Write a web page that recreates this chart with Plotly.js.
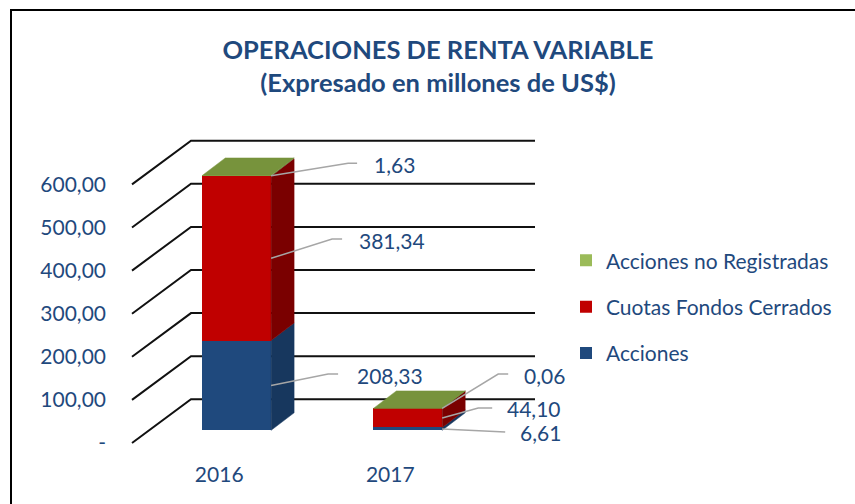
<!DOCTYPE html>
<html>
<head>
<meta charset="utf-8">
<script src="https://cdn.plot.ly/plotly-3.0.1.min.js"></script>
<style>
  html, body { margin: 0; padding: 0; background: #fff; }
  #wrap { position: relative; width: 855px; height: 504px; }
  #chart { width: 855px; height: 504px; }
  #frame { position: absolute; left: 10px; top: 9px; right: -5px; bottom: -5px;
           border-left: 2px solid #000; border-top: 2px solid #000; pointer-events: none; }
</style>
</head>
<body>
<div id="wrap"><div id="chart"></div><div id="frame"></div></div>
<script>
// ---- data ----
const years = ['2016', '2017'];
const acciones = [208.33, 6.61];
const cuotasFondosCerrados = [381.34, 44.10];
const accionesNoRegistradas = [1.63, 0.06];
const seriesNames = ['Acciones', 'Cuotas Fondos Cerrados', 'Acciones no Registradas'];
const yTickVals = [0, 100, 200, 300, 400, 500, 600];
const yTickText = ['-', '100,00', '200,00', '300,00', '400,00', '500,00', '600,00'];

// ---- styling / geometry ----
const TXT = '#1F497D';
const FONT = 'Lato, "Open Sans", sans-serif';
const frontColors = ['#1F497D', '#C00000', '#9BBB59'];
const sideColors  = ['#17375E', '#7A0000', '#4F6228'];
const topColor = '#77933C';

const plot = {l: 110, r: 560, t: 120, b: 460};
const X0 = 236.7, XS = 171.1;   // px of first category bar centre, px per category
const K = 0.431;                // px per value unit
const ZF = 443, ZB = 430.3;     // zero in px: front plane (axis), bar plane
const u  = px => (px - X0) / XS;
const du = d => d / XS;
const dv = d => d / K;
const BW = 68.8 / XS;           // bar width
const DX = du(23), DY = dv(17.5);       // bar depth
const GDY = dv(43.7);                   // wall depth of gridlines

const fmt = v => v.toFixed(2).replace('.', ',');

const series = [acciones, cuotasFondosCerrados, accionesNoRegistradas];
const xs = years.map((_, i) => i);

const traces = [];
series.forEach((vals, s) => {
  traces.push({
    type: 'bar', x: xs, y: vals, name: seriesNames[s], width: BW,
    marker: {color: frontColors[s], line: {width: 0}},
    xaxis: 'x', yaxis: 'y2', legendgroup: seriesNames[s],
    legendrank: 1000 - s, hoverinfo: 'skip'
  });
});

// 3D side and top faces, computed from the data
const annotations = [];
// leader line offsets in px from segment mid on the right edge: [diag end dx, dy, horiz end dx, label dx]
const leaders = [
  [[57, -11.4, 67, 84], [61, -19.3, 71, 86], [77, -12.5, 86, 101]],
  [[55, 3, 63, 76], [36, -10, 50, 63], [56, -34.4, 66, 80]]
];
xs.forEach(i => {
  let base = 0;
  const xl = i - BW / 2, xr = i + BW / 2;
  series.forEach((vals, s) => {
    const b = base, t = base + vals[i];
    traces.push({
      type: 'scatter', mode: 'lines', x: [xr, xr + DX, xr + DX, xr, xr],
      y: [b, b + DY, t + DY, t, b], fill: 'toself', fillcolor: sideColors[s],
      line: {color: sideColors[s], width: 0.5}, xaxis: 'x', yaxis: 'y2',
      showlegend: false, hoverinfo: 'skip'
    });
    if (s === series.length - 1) {
      traces.push({
        type: 'scatter', mode: 'lines', x: [xl, xr, xr + DX, xl + DX, xl],
        y: [t, t, t + DY, t + DY, t], fill: 'toself', fillcolor: topColor,
        line: {color: topColor, width: 0.5}, xaxis: 'x', yaxis: 'y2',
        showlegend: false, hoverinfo: 'skip'
      });
    }
    const mid = (b + t) / 2;
    const L = leaders[i][s];
    traces.push({
      type: 'scatter', mode: 'lines',
      x: [xr, xr + du(L[0]), xr + du(L[2])],
      y: [mid, mid - dv(L[1]), mid - dv(L[1])],
      line: {color: '#A6A6A6', width: 1.5}, xaxis: 'x', yaxis: 'y2',
      showlegend: false, hoverinfo: 'skip'
    });
    annotations.push({
      x: xr + du(L[3]), y: mid - dv(L[1] + 1), xref: 'x', yref: 'y2',
      text: fmt(vals[i]), showarrow: false, xanchor: 'left', yanchor: 'middle',
      font: {family: FONT, size: 21, color: TXT}
    });
    base = t;
  });
});

// perspective gridlines (floor-to-wall)
const shapes = yTickVals.map(v => ({
  type: 'path', xref: 'x', yref: 'y', layer: 'below',
  path: `M ${u(132)},${v} L ${u(191)},${v + GDY} L ${u(535)},${v + GDY}`,
  line: {color: '#111', width: 2}
}));

const layout = {
  width: 855, height: 504,
  margin: {l: plot.l, r: 855 - plot.r, t: plot.t, b: 504 - plot.b, pad: 0},
  paper_bgcolor: '#fff', plot_bgcolor: 'rgba(0,0,0,0)',
  barmode: 'stack',
  showlegend: true,
  title: {
    text: '<b>OPERACIONES DE RENTA VARIABLE</b><br><b>(Expresado en millones de US$)</b>',
    x: 438 / 855, xanchor: 'center', xref: 'container',
    y: 1 - 58.5 / 504, yanchor: 'middle', yref: 'container',
    font: {family: FONT, size: 25.5, color: TXT}
  },
  xaxis: {
    range: [u(plot.l), u(plot.r)], tickvals: xs.map(i => i + du(-17.5)), ticktext: years,
    showgrid: false, zeroline: false, showline: false, ticks: '',
    tickfont: {family: FONT, size: 21, color: TXT}
  },
  yaxis: {
    range: [(ZF - plot.b) / K, (ZF - plot.t) / K], tickvals: yTickVals, ticktext: yTickText,
    showgrid: false, zeroline: false, showline: false, ticks: '', ticklabelstandoff: 3,
    tickfont: {family: FONT, size: 21, color: TXT}
  },
  yaxis2: {
    range: [(ZB - plot.b) / K, (ZB - plot.t) / K], overlaying: 'y', visible: false
  },
  legend: {
    x: (566 - plot.l) / (plot.r - plot.l), xanchor: 'left',
    y: (plot.b - 306.7) / (plot.b - plot.t), yanchor: 'middle',
    traceorder: 'grouped', tracegroupgap: 16,
    font: {family: FONT, size: 21, color: TXT}, bgcolor: 'rgba(0,0,0,0)'
  },
  shapes: shapes,
  annotations: annotations
};

Plotly.newPlot('chart', traces, layout, {staticPlot: true});
</script>
</body>
</html>
